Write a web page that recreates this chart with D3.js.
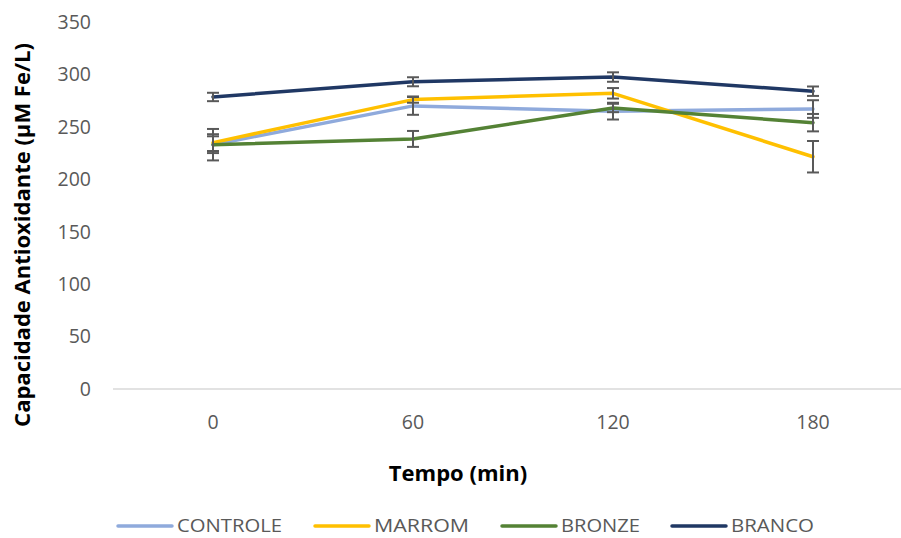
<!DOCTYPE html>
<html>
<head>
<meta charset="utf-8">
<script src="https://cdn.jsdelivr.net/npm/d3@7"></script>
<style>
  html, body { margin: 0; padding: 0; background: #fff; }
  svg { display: block; }
</style>
</head>
<body>
<svg id="chart" width="901" height="538"></svg>
<script>
// ---- data ----
const categories = ["0", "60", "120", "180"];
const seriesNames = ["CONTROLE", "MARROM", "BRONZE", "BRANCO"];
const controle = [233, 270, 265, 267];
const marrom   = [235, 276, 282, 221.5];
const bronze   = [233, 238.5, 268, 254];
const branco   = [278.5, 293, 297.5, 284];
const controleErr = [15, 8.5, 8, 8.4];
const marromErr   = [8, 3, 5, 15];
const bronzeErr   = [8, 7.6, 4, 8.3];
const brancoErr   = [4, 4.3, 4.5, 4.5];
const yTicks = [0, 50, 100, 150, 200, 250, 300, 350];
const colors = ["#8FAADC", "#FFC000", "#548235", "#203864"];

const seriesValues = [controle, marrom, bronze, branco];
const seriesErrors = [controleErr, marromErr, bronzeErr, brancoErr];

const svg = d3.select("#chart");
const font = "'Open Sans', 'Noto Sans', sans-serif";
const textColor = "#595959";

const x = d3.scalePoint().domain(categories).range([113, 913]).padding(0.5);
const y = d3.scaleLinear().domain([0, 350]).range([389, 22]);

// x axis line
svg.append("line")
  .attr("x1", 113).attr("x2", 913)
  .attr("y1", y(0)).attr("y2", y(0))
  .attr("stroke", "#D9D9D9").attr("stroke-width", 1.3);

// y tick labels
svg.append("g").selectAll("text").data(yTicks).join("text")
  .attr("x", 91).attr("y", d => y(d))
  .attr("dy", "0.35em")
  .attr("text-anchor", "end")
  .attr("font-family", font).attr("font-size", 19.5)
  .attr("fill", textColor)
  .text(d => d);

// x tick labels
svg.append("g").selectAll("text").data(categories).join("text")
  .attr("x", d => x(d)).attr("y", 422)
  .attr("dy", "0.35em")
  .attr("text-anchor", "middle")
  .attr("font-family", font).attr("font-size", 19.5)
  .attr("fill", textColor)
  .text(d => d);

// axis titles
svg.append("text")
  .attr("x", 458).attr("y", 473)
  .attr("dy", "0.35em")
  .attr("text-anchor", "middle")
  .attr("font-family", font).attr("font-size", 22).attr("font-weight", "bold")
  .attr("fill", "#000")
  .text("Tempo (min)");

svg.append("text")
  .attr("transform", "translate(22,235) rotate(-90)")
  .attr("dy", "0.35em")
  .attr("text-anchor", "middle")
  .attr("font-family", font).attr("font-size", 22).attr("font-weight", "bold")
  .attr("fill", "#000")
  .text("Capacidade Antioxidante (µM Fe/L)");

// lines
const line = d3.line()
  .x((d, i) => x(categories[i]))
  .y(d => y(d));

seriesValues.forEach((vals, s) => {
  svg.append("path")
    .datum(vals)
    .attr("d", line)
    .attr("fill", "none")
    .attr("stroke", colors[s])
    .attr("stroke-width", 3.5)
    .attr("stroke-linejoin", "round")
    .attr("stroke-linecap", "round");
});

// error bars
const eg = svg.append("g").attr("stroke", "#595959").attr("stroke-width", 2);
seriesValues.forEach((vals, s) => {
  vals.forEach((v, i) => {
    const e = seriesErrors[s][i];
    const cx = x(categories[i]);
    eg.append("line").attr("x1", cx).attr("x2", cx).attr("y1", y(v + e)).attr("y2", y(v - e));
    eg.append("line").attr("x1", cx - 6).attr("x2", cx + 6).attr("y1", y(v + e)).attr("y2", y(v + e));
    eg.append("line").attr("x1", cx - 6).attr("x2", cx + 6).attr("y1", y(v - e)).attr("y2", y(v - e));
  });
});

// legend
const legendX = [118, 315, 502, 672];
const legendTextW = [105, 95, 79, 83];
const lg = svg.append("g");
seriesNames.forEach((name, s) => {
  lg.append("line")
    .attr("x1", legendX[s]).attr("x2", legendX[s] + 54)
    .attr("y1", 526).attr("y2", 526)
    .attr("stroke", colors[s]).attr("stroke-width", 3.5)
    .attr("stroke-linecap", "round");
  lg.append("text")
    .attr("x", legendX[s] + 59).attr("y", 526)
    .attr("dy", "0.35em")
    .attr("font-family", font).attr("font-size", 18)
    .attr("textLength", legendTextW[s])
    .attr("lengthAdjust", "spacingAndGlyphs")
    .attr("fill", textColor)
    .text(name);
});
</script>
</body>
</html>
